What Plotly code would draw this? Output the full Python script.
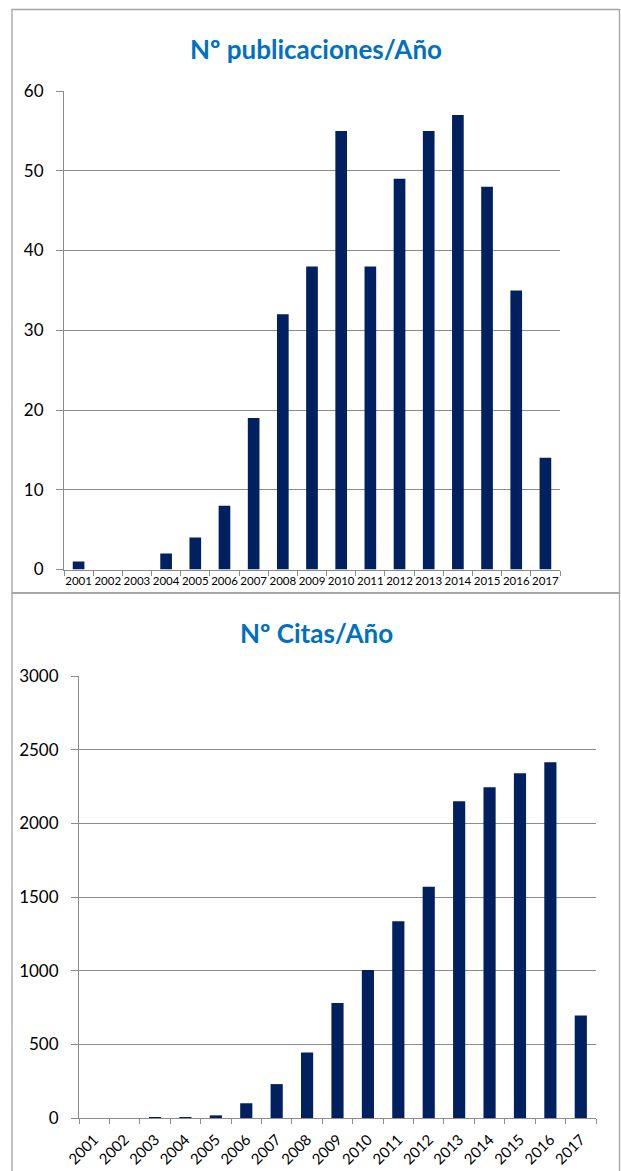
import plotly.graph_objects as go

# Years on the category axis
years = ["2001", "2002", "2003", "2004", "2005", "2006", "2007", "2008", "2009",
         "2010", "2011", "2012", "2013", "2014", "2015", "2016", "2017"]

# Publications per year
publicaciones = [1, 0, 0, 2, 4, 8, 19, 32, 38, 55, 38, 49, 55, 57, 48, 35, 14]

# Citations per year
citas = [0, 0, 6, 5, 18, 100, 230, 445, 780, 1005, 1335, 1570, 2150, 2245, 2340, 2415, 695]

titulo_pub = "Nº publicaciones/Año"
titulo_citas = "Nº Citas/Año"

W, H = 621, 1171
BAR = "#002060"
GRID = "#8c8c8c"
BORDER = "#a3a3a3"
FONT = "Lato, 'Open Sans', sans-serif"


def px_x(x):
    return x / W


def px_y(y):
    return 1 - y / H


fig = go.Figure()

fig.add_trace(go.Bar(
    x=years, y=publicaciones, xaxis="x", yaxis="y",
    marker=dict(color=BAR, line=dict(width=0)),
    showlegend=False, hoverinfo="x+y",
))
fig.add_trace(go.Bar(
    x=years, y=citas, xaxis="x2", yaxis="y2",
    marker=dict(color=BAR, line=dict(width=0)),
    showlegend=False, hoverinfo="x+y",
))

common_x = dict(
    type="category", showgrid=False, showline=True, linecolor=GRID, linewidth=1,
    ticks="outside", tickson="boundaries", ticklen=5, tickcolor=GRID, tickwidth=1,
    fixedrange=True, automargin=False,
)
common_y = dict(
    showgrid=True, gridcolor=GRID, gridwidth=1, showline=True, linecolor=GRID,
    linewidth=1, ticks="outside", ticklen=7, tickcolor=GRID, tickwidth=1,
    zeroline=False, tickfont=dict(family=FONT, size=17, color="#000000"),
    ticklabelstandoff=9, fixedrange=True, automargin=False,
)

fig.update_layout(
    width=W, height=H,
    margin=dict(l=0, r=0, t=0, b=0, pad=0, autoexpand=False),
    paper_bgcolor="white", plot_bgcolor="white",
    showlegend=False,
    bargap=0.6,
    xaxis=dict(common_x, domain=[px_x(64), px_x(560)], anchor="y",
               tickangle=0, ticklabelstandoff=1,
               tickfont=dict(family=FONT, size=11.5, color="#000000")),
    yaxis=dict(common_y, domain=[px_y(569.5), px_y(91)], anchor="x",
               range=[0, 60], dtick=10),
    xaxis2=dict(common_x, domain=[px_x(79), px_x(596)], anchor="y2",
                tickangle=-45, ticklabelstandoff=6,
                tickfont=dict(family=FONT, size=15, color="#000000")),
    yaxis2=dict(common_y, domain=[px_y(1118), px_y(676)], anchor="x2",
                range=[0, 3000], dtick=500),
    annotations=[
        dict(text="<b>%s</b>" % titulo_pub, xref="paper", yref="paper",
             x=px_x(316), y=px_y(49), xanchor="center", yanchor="middle",
             showarrow=False, font=dict(family=FONT, size=26, color="#0070C0")),
        dict(text="<b>%s</b>" % titulo_citas, xref="paper", yref="paper",
             x=px_x(316), y=px_y(633), xanchor="center", yanchor="middle",
             showarrow=False, font=dict(family=FONT, size=26, color="#0070C0")),
    ],
    shapes=[
        dict(type="rect", xref="paper", yref="paper",
             x0=px_x(12), x1=px_x(619.5), y0=px_y(593), y1=px_y(9.5),
             line=dict(color=BORDER, width=1.3), layer="below"),
        dict(type="rect", xref="paper", yref="paper",
             x0=px_x(12), x1=px_x(619.5), y0=px_y(1180), y1=px_y(593),
             line=dict(color=BORDER, width=1.3), layer="below"),
    ],
)

fig.write_html("out.html")
